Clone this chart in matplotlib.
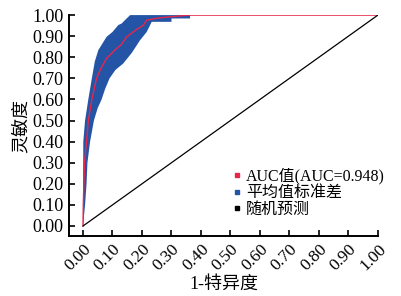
import matplotlib
matplotlib.use("Agg")
import matplotlib.pyplot as plt
from matplotlib.lines import Line2D

plt.rcParams['font.family'] = ['Liberation Serif', 'Noto Sans CJK SC', 'DejaVu Sans']

# mean ROC curve
mean_fpr = [0, 0.001, 0.003, 0.005, 0.012, 0.018, 0.03, 0.046, 0.06, 0.08, 0.108,
            0.13, 0.148, 0.18, 0.205, 0.216, 0.25, 0.295, 0.363, 1.0]
mean_tpr = [0, 0.10, 0.20, 0.30, 0.40, 0.50, 0.60, 0.70, 0.745, 0.795, 0.834,
            0.86, 0.897, 0.93, 0.953, 0.976, 0.985, 0.992, 1.0, 1.0]
# std band edges
upper_fpr = [0, 0.0, 0.001, 0.007, 0.018, 0.03, 0.04, 0.052, 0.08, 0.10, 0.115,
             0.12, 0.131, 0.145, 0.16, 1.0]
upper_tpr = [0, 0.10, 0.40, 0.50, 0.60, 0.70, 0.78, 0.834, 0.897, 0.92, 0.945,
             0.953, 0.96, 0.98, 1.0, 1.0]
lower_fpr = [0, 0.007, 0.012, 0.015, 0.024, 0.037, 0.05, 0.063, 0.075, 0.09, 0.11,
             0.136, 0.165, 0.193, 0.216, 0.233, 0.30, 0.30, 0.363, 0.363, 1.0]
lower_tpr = [0, 0.10, 0.20, 0.30, 0.40, 0.50, 0.56, 0.60, 0.65, 0.70, 0.74,
             0.77, 0.82, 0.88, 0.92, 0.968, 0.968, 0.984, 0.984, 1.0, 1.0]
ticks = [0.0, 0.1, 0.2, 0.3, 0.4, 0.5, 0.6, 0.7, 0.8, 0.9, 1.0]
labels = ['AUC值(AUC=0.948)', '平均值标准差', '随机预测']

fig = plt.figure(figsize=(4.02, 2.96), dpi=100)
ax = fig.add_axes([0.172, 0.203, 0.768, 0.746])

band_x = upper_fpr + lower_fpr[::-1]
band_y = upper_tpr + lower_tpr[::-1]
ax.fill(band_x, band_y, color='#2354a6', linewidth=0)
ax.plot(mean_fpr, mean_tpr, color='#e8264a', linewidth=1.0)
ax.plot([0, 1], [0, 1], color='black', linewidth=0.9)

ax.set_xlim(-0.047, 1.0)
ax.set_ylim(-0.047, 1.0)
ax.set_xticks(ticks)
ax.set_yticks(ticks)
ax.set_xticklabels([f'{t:.2f}' for t in ticks], rotation=45, ha='right',
                   rotation_mode='anchor', fontsize=12.5)
ax.set_yticklabels([f'{t:.2f}' for t in ticks], fontsize=13)
ax.tick_params(direction='in', length=4, width=1.2, pad=4)
ax.tick_params(axis='x', pad=4)
for s in ['top', 'right']:
    ax.spines[s].set_visible(False)
for s in ['left', 'bottom']:
    ax.spines[s].set_linewidth(1.4)

ax.set_xlabel('1-特异度', fontsize=13, labelpad=1)
ax.set_ylabel('灵敏度', fontsize=13, labelpad=2)

handles = [Line2D([], [], marker='s', linestyle='none', color=c, markersize=3)
           for c in ['#e8264a', '#2354a6', 'black']]
ax.legend(handles, labels, loc='lower right', frameon=False, fontsize=11.5,
          handletextpad=0.2, labelspacing=0.05, handlelength=0.8, borderpad=0,
          bbox_to_anchor=(393 / 402, 1 - 226 / 296), bbox_transform=fig.transFigure)

fig.savefig('out.png', dpi=100)
